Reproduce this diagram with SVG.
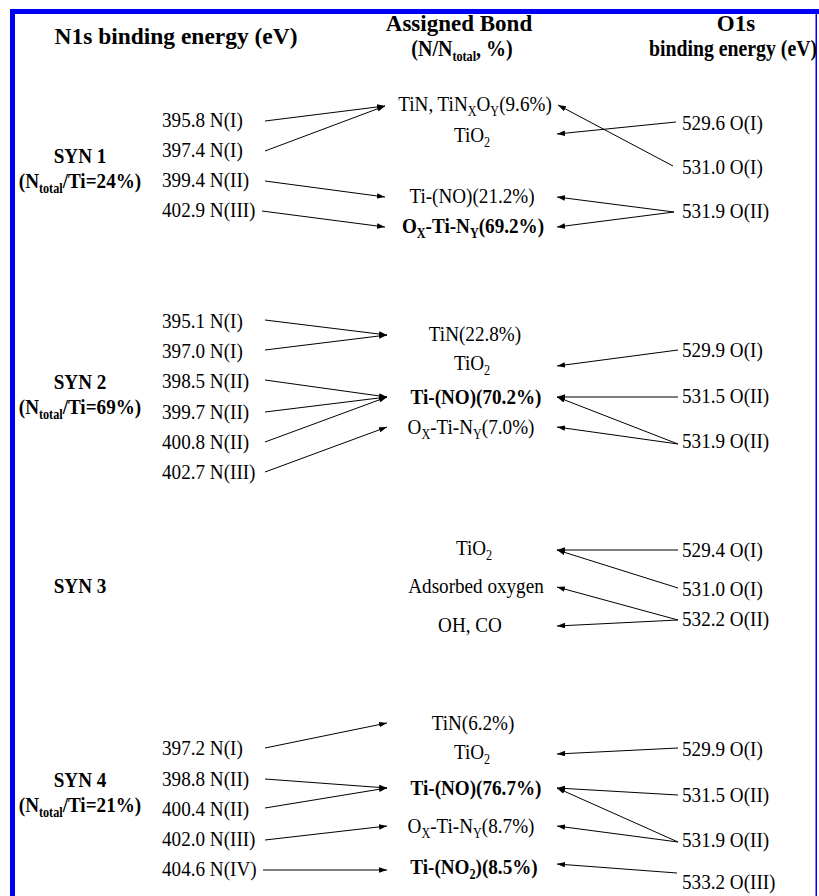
<svg xmlns="http://www.w3.org/2000/svg" width="819" height="896" viewBox="0 0 819 896">
<defs>
<style>
.t{font-family:"Liberation Serif","Times New Roman",serif;font-size:22px;fill:#000}
.h{font-size:23px;font-weight:bold}
.b{font-weight:bold}
.m{text-anchor:middle}
.s{font-size:14px}
.c line{stroke:#000;stroke-width:1;marker-end:url(#ah)}
</style>
<marker id="ah" markerUnits="userSpaceOnUse" markerWidth="9" markerHeight="6" refX="8" refY="2.75" orient="auto">
<path d="M0,0 L8,2.75 L0,5.5 z" fill="#000"/>
</marker>
</defs>
<rect width="819" height="896" fill="#fff"/>
<g id="border" fill="#0000f5">
<rect x="10" y="9" width="809" height="5"/>
<rect x="10" y="9" width="5" height="887"/>
<rect x="815.5" y="9" width="1.5" height="887"/>
</g>
<g id="headers">
<text class="t h m" transform="translate(176 44) scale(1.02 1)">N1s binding energy (eV)</text>
<text class="t h m" transform="translate(459 31) scale(1 1)">Assigned Bond</text>
<text class="t h m" transform="translate(462 56) scale(0.87 1)">(N/N<tspan class="s" dy="5">total</tspan><tspan dy="-5">, %)</tspan></text>
<text class="t h m" transform="translate(736 31) scale(1 1)">O1s</text>
<text class="t h" transform="translate(649 56) scale(0.86 1)">binding energy (eV)</text>
</g>
<g id="syn1">
<g id="syn1-label"><text class="t b m" transform="translate(80 163) scale(0.87 1)">SYN 1</text>
<text class="t b m" transform="translate(80 188) scale(0.87 1)">(N<tspan class="s" dy="5">total</tspan><tspan dy="-5">/Ti=24%)</tspan></text></g>
<g id="n1-1"><text class="t" transform="translate(162 127) scale(0.87 1)">395.8 N(I)</text></g>
<g id="n1-2"><text class="t" transform="translate(162 157) scale(0.87 1)">397.4 N(I)</text></g>
<g id="n1-3"><text class="t" transform="translate(162 187) scale(0.87 1)">399.4 N(II)</text></g>
<g id="n1-4"><text class="t" transform="translate(162 217) scale(0.87 1)">402.9 N(III)</text></g>
<g id="b1-1"><text class="t m" transform="translate(475 111) scale(0.87 1)">TiN, TiN<tspan class="s" dy="5">X</tspan><tspan dy="-5">O</tspan><tspan class="s" dy="5">Y</tspan><tspan dy="-5">(9.6%)</tspan></text></g>
<g id="b1-2"><text class="t m" transform="translate(472 142) scale(0.87 1)">TiO<tspan class="s" dy="5">2</tspan></text></g>
<g id="b1-3"><text class="t m" transform="translate(472 203) scale(0.87 1)">Ti-(NO)(21.2%)</text></g>
<g id="b1-4"><text class="t b m" transform="translate(473 233) scale(0.87 1)">O<tspan class="s" dy="5">X</tspan><tspan dy="-5">-Ti-N</tspan><tspan class="s" dy="5">Y</tspan><tspan dy="-5">(69.2%)</tspan></text></g>
<g id="o1-1"><text class="t" transform="translate(682 130) scale(0.87 1)">529.6 O(I)</text></g>
<g id="o1-2"><text class="t" transform="translate(682 174) scale(0.87 1)">531.0 O(I)</text></g>
<g id="o1-3"><text class="t" transform="translate(682 218) scale(0.87 1)">531.9 O(II)</text></g>
</g>
<g id="syn2">
<g id="syn2-label"><text class="t b m" transform="translate(80 389) scale(0.87 1)">SYN 2</text>
<text class="t b m" transform="translate(80 414) scale(0.87 1)">(N<tspan class="s" dy="5">total</tspan><tspan dy="-5">/Ti=69%)</tspan></text></g>
<g id="n2-1"><text class="t" transform="translate(162 328) scale(0.87 1)">395.1 N(I)</text></g>
<g id="n2-2"><text class="t" transform="translate(162 358) scale(0.87 1)">397.0 N(I)</text></g>
<g id="n2-3"><text class="t" transform="translate(162 388) scale(0.87 1)">398.5 N(II)</text></g>
<g id="n2-4"><text class="t" transform="translate(162 419) scale(0.87 1)">399.7 N(II)</text></g>
<g id="n2-5"><text class="t" transform="translate(162 449) scale(0.87 1)">400.8 N(II)</text></g>
<g id="n2-6"><text class="t" transform="translate(162 479) scale(0.87 1)">402.7 N(III)</text></g>
<g id="b2-1"><text class="t m" transform="translate(475 341) scale(0.87 1)">TiN(22.8%)</text></g>
<g id="b2-2"><text class="t m" transform="translate(472 370) scale(0.87 1)">TiO<tspan class="s" dy="5">2</tspan></text></g>
<g id="b2-3"><text class="t b m" transform="translate(476 404) scale(0.87 1)">Ti-(NO)(70.2%)</text></g>
<g id="b2-4"><text class="t m" transform="translate(471 434) scale(0.87 1)">O<tspan class="s" dy="5">X</tspan><tspan dy="-5">-Ti-N</tspan><tspan class="s" dy="5">Y</tspan><tspan dy="-5">(7.0%)</tspan></text></g>
<g id="o2-1"><text class="t" transform="translate(682 357) scale(0.87 1)">529.9 O(I)</text></g>
<g id="o2-2"><text class="t" transform="translate(682 403) scale(0.87 1)">531.5 O(II)</text></g>
<g id="o2-3"><text class="t" transform="translate(682 448) scale(0.87 1)">531.9 O(II)</text></g>
</g>
<g id="syn3">
<g id="syn3-label"><text class="t b m" transform="translate(80 593) scale(0.87 1)">SYN 3</text></g>
<g id="b3-1"><text class="t m" transform="translate(474 555) scale(0.87 1)">TiO<tspan class="s" dy="5">2</tspan></text></g>
<g id="b3-2"><text class="t m" transform="translate(476 593) scale(0.87 1)">Adsorbed oxygen</text></g>
<g id="b3-3"><text class="t m" transform="translate(470 632) scale(0.87 1)">OH, CO</text></g>
<g id="o3-1"><text class="t" transform="translate(682 557) scale(0.87 1)">529.4 O(I)</text></g>
<g id="o3-2"><text class="t" transform="translate(682 596) scale(0.87 1)">531.0 O(I)</text></g>
<g id="o3-3"><text class="t" transform="translate(682 626) scale(0.87 1)">532.2 O(II)</text></g>
</g>
<g id="syn4">
<g id="syn4-label"><text class="t b m" transform="translate(80 787) scale(0.87 1)">SYN 4</text>
<text class="t b m" transform="translate(80 812) scale(0.87 1)">(N<tspan class="s" dy="5">total</tspan><tspan dy="-5">/Ti=21%)</tspan></text></g>
<g id="n4-1"><text class="t" transform="translate(162 755) scale(0.87 1)">397.2 N(I)</text></g>
<g id="n4-2"><text class="t" transform="translate(162 786) scale(0.87 1)">398.8 N(II)</text></g>
<g id="n4-3"><text class="t" transform="translate(162 816) scale(0.87 1)">400.4 N(II)</text></g>
<g id="n4-4"><text class="t" transform="translate(162 846) scale(0.87 1)">402.0 N(III)</text></g>
<g id="n4-5"><text class="t" transform="translate(162 876) scale(0.87 1)">404.6 N(IV)</text></g>
<g id="b4-1"><text class="t m" transform="translate(473 730) scale(0.87 1)">TiN(6.2%)</text></g>
<g id="b4-2"><text class="t m" transform="translate(472 759) scale(0.87 1)">TiO<tspan class="s" dy="5">2</tspan></text></g>
<g id="b4-3"><text class="t b m" transform="translate(476 795) scale(0.87 1)">Ti-(NO)(76.7%)</text></g>
<g id="b4-4"><text class="t m" transform="translate(471 833) scale(0.87 1)">O<tspan class="s" dy="5">X</tspan><tspan dy="-5">-Ti-N</tspan><tspan class="s" dy="5">Y</tspan><tspan dy="-5">(8.7%)</tspan></text></g>
<g id="b4-5"><text class="t b m" transform="translate(474 874) scale(0.87 1)">Ti-(NO<tspan class="s" dy="5">2</tspan><tspan dy="-5">)(8.5%)</tspan></text></g>
<g id="o4-1"><text class="t" transform="translate(682 756) scale(0.87 1)">529.9 O(I)</text></g>
<g id="o4-2"><text class="t" transform="translate(682 802) scale(0.87 1)">531.5 O(II)</text></g>
<g id="o4-3"><text class="t" transform="translate(682 847) scale(0.87 1)">531.9 O(II)</text></g>
<g id="o4-4"><text class="t" transform="translate(682 889) scale(0.87 1)">533.2 O(III)</text></g>
</g>
<g id="connectors" class="c">
<line x1="265" y1="121" x2="385" y2="106"/>
<line x1="265" y1="151" x2="385" y2="106"/>
<line x1="265" y1="181" x2="385" y2="197"/>
<line x1="262" y1="211" x2="385" y2="227"/>
<line x1="676" y1="122" x2="557" y2="134"/>
<line x1="673" y1="166" x2="558" y2="105"/>
<line x1="674" y1="212" x2="557" y2="197"/>
<line x1="674" y1="212" x2="557" y2="227"/>
<line x1="265" y1="320" x2="387" y2="335"/>
<line x1="265" y1="350" x2="387" y2="335"/>
<line x1="265" y1="380" x2="387" y2="397"/>
<line x1="265" y1="412" x2="387" y2="397"/>
<line x1="265" y1="442" x2="387" y2="397"/>
<line x1="265" y1="472" x2="387" y2="427"/>
<line x1="678" y1="350" x2="557" y2="366"/>
<line x1="678" y1="397" x2="557" y2="397"/>
<line x1="678" y1="444" x2="557" y2="397"/>
<line x1="678" y1="444" x2="557" y2="427"/>
<line x1="678" y1="550" x2="557" y2="550"/>
<line x1="678" y1="588" x2="557" y2="550"/>
<line x1="678" y1="620" x2="557" y2="587"/>
<line x1="678" y1="620" x2="557" y2="626"/>
<line x1="265" y1="748" x2="387" y2="723"/>
<line x1="265" y1="779" x2="387" y2="788"/>
<line x1="265" y1="808" x2="387" y2="788"/>
<line x1="265" y1="840" x2="387" y2="826"/>
<line x1="263" y1="870" x2="387" y2="870"/>
<line x1="678" y1="748" x2="557" y2="754"/>
<line x1="678" y1="795" x2="557" y2="788"/>
<line x1="678" y1="842" x2="557" y2="788"/>
<line x1="678" y1="842" x2="557" y2="826"/>
<line x1="677" y1="873" x2="557" y2="864"/>
</g>
</svg>
